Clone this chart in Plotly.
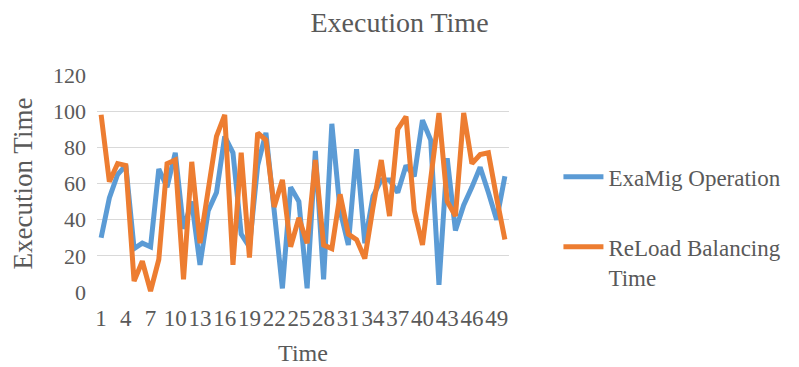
import plotly.graph_objects as go

# Time steps 1..50
time_steps = list(range(1, 51))

examig_operation = [30, 52, 65, 70, 24, 27, 25, 68, 58, 77,
                    35, 50, 15, 45, 55, 86, 77, 32, 25, 70,
                    88, 45, 2, 58, 50, 2, 78, 7, 93, 45,
                    26, 79, 27, 53, 62, 62, 55, 70, 64, 95,
                    84, 4, 74, 34, 48, 58, 69, 55, 40, 64]

reload_balancing = [98, 61, 71, 70, 6, 17, 0.5, 18, 71, 73,
                    7, 72, 27, 58, 86, 98, 15, 77, 19, 88,
                    84, 47, 62, 25, 41, 27, 73, 26, 24, 54,
                    32, 29, 18.5, 47, 73, 42, 90, 97, 45, 26,
                    60, 99, 50, 42, 99, 71, 76, 77, 52, 29]

x_tick_values = list(range(1, 51, 3))
y_tick_values = [0, 20, 40, 60, 80, 100, 120]

SERIF = "Times New Roman, Liberation Serif, serif"
TEXT = "#595959"

fig = go.Figure()
fig.add_trace(go.Scatter(
    x=time_steps, y=examig_operation, mode="lines",
    name="ExaMig Operation", legendgroup="a",
    line=dict(color="#5B9BD5", width=5),
))
fig.add_trace(go.Scatter(
    x=time_steps, y=reload_balancing, mode="lines",
    name="ReLoad Balancing<br>Time", legendgroup="b",
    line=dict(color="#ED7D31", width=5),
))

fig.update_layout(
    width=799, height=367,
    margin=dict(l=97, r=286, t=75, b=75),
    paper_bgcolor="white", plot_bgcolor="white",
    font=dict(family=SERIF, color=TEXT, size=22),
    title=dict(text="Execution Time", x=0.5, xanchor="center",
               y=0.94, yanchor="middle",
               font=dict(size=28, color=TEXT, family=SERIF)),
    xaxis=dict(
        range=[0.5, 50.5], tickmode="array", tickvals=x_tick_values,
        ticktext=[str(v) for v in x_tick_values],
        showgrid=False, zeroline=False, showline=False,
        ticks="", tickangle=0, automargin=False,
        tickfont=dict(size=23, family=SERIF, color=TEXT),
        ticklabelstandoff=10,
        title=dict(text="Time", font=dict(size=24, family=SERIF, color=TEXT),
                   standoff=14),
    ),
    yaxis=dict(
        range=[0, 120], tickmode="array", tickvals=y_tick_values,
        showgrid=True, gridcolor="#D9D9D9", gridwidth=1,
        zeroline=False, showline=False, ticks="", automargin=False,
        tickfont=dict(size=22, family=SERIF, color=TEXT), ticklabelstandoff=10,
        title=dict(text="Execution Time",
                   font=dict(size=27, family=SERIF, color=TEXT), standoff=12),
    ),
    legend=dict(
        x=1.12, xanchor="left", y=0.30, yanchor="middle",
        traceorder="grouped", tracegroupgap=37, valign="top",
        font=dict(size=23, color=TEXT, family=SERIF), bgcolor="rgba(0,0,0,0)",
        itemwidth=40,
    ),
)

fig.write_html("out.html")
